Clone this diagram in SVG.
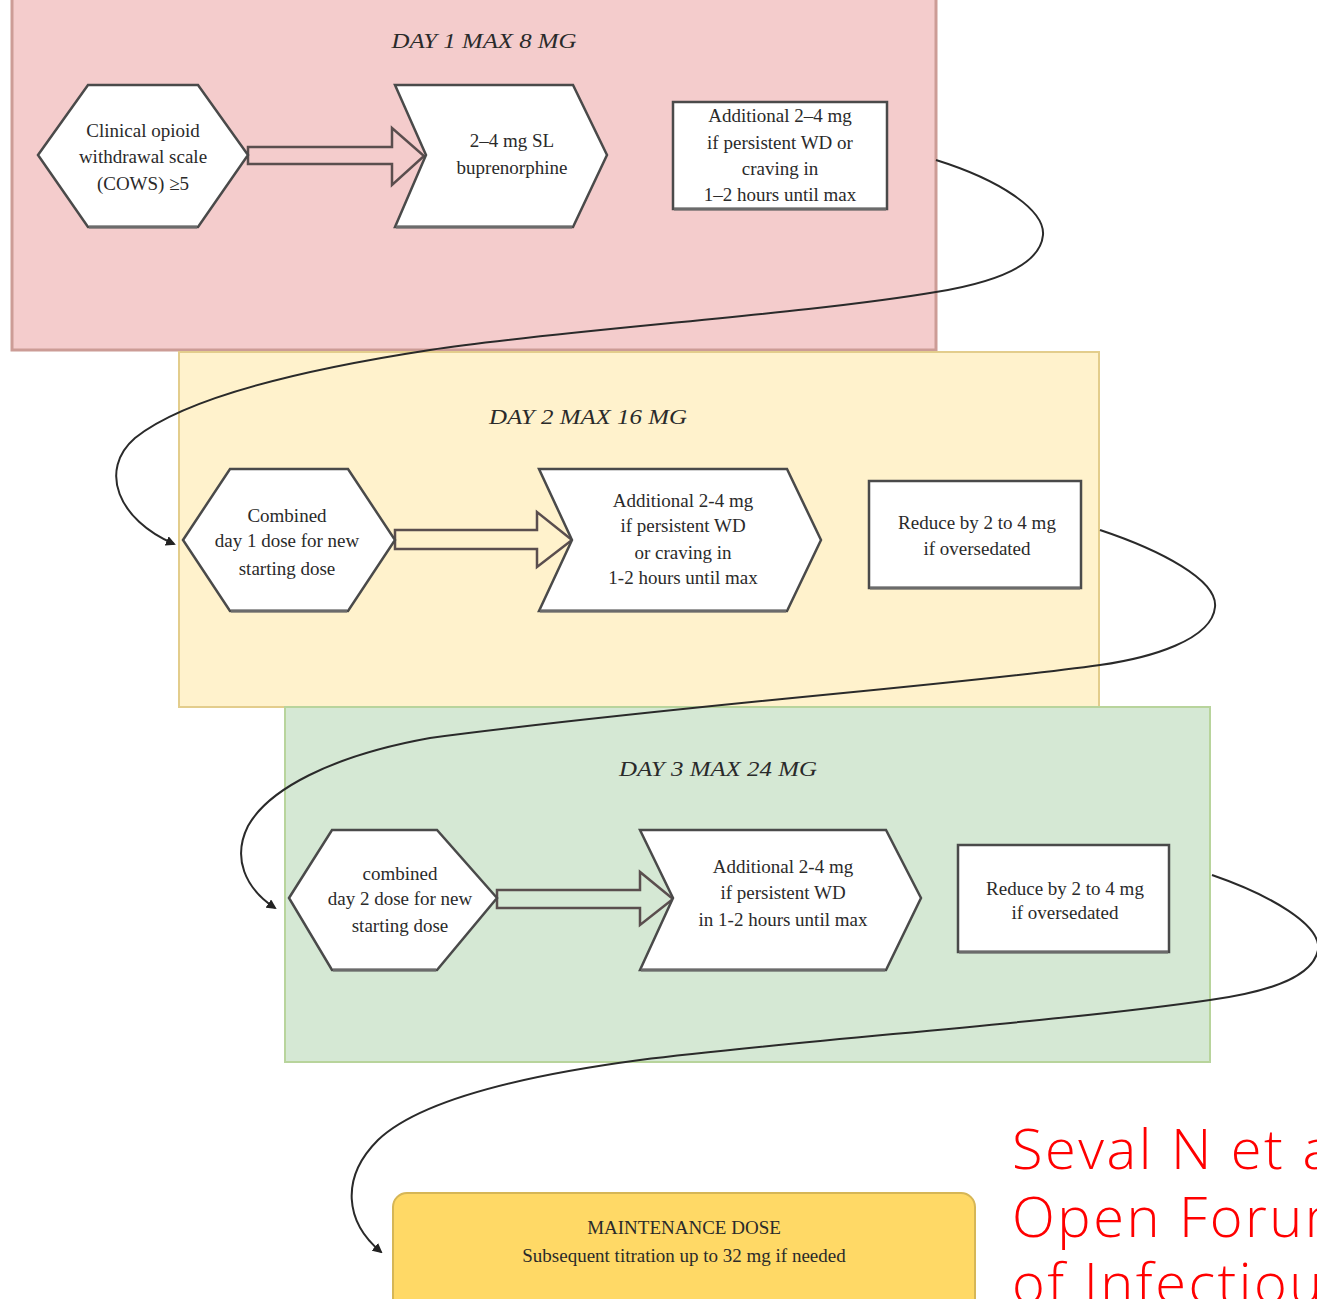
<svg xmlns="http://www.w3.org/2000/svg" width="1317" height="1299" viewBox="0 0 1317 1299">
<defs>
<marker id="ah" markerWidth="10" markerHeight="10" refX="8" refY="5" orient="auto" markerUnits="userSpaceOnUse">
<path d="M0,0 L10,5 L0,10 Z" fill="#222"/>
</marker>
<style>
.node{fill:#ffffff;stroke:#4a4a4a;stroke-width:2.5}
.shadow{fill:none;stroke:#6b6b6b;stroke-width:3}
.barrow{fill:none;stroke:#5a4e4e;stroke-width:2.5}
.t{font-family:"Liberation Serif",serif;font-size:19px;fill:#2a2a2a;text-anchor:middle}
.title{font-family:"Liberation Serif",serif;font-style:italic;font-size:22px;fill:#2a2a2a;text-anchor:middle}
.conn{fill:none;stroke:#2a2a2a;stroke-width:2}
.ref{font-family:"Open Sans","Liberation Sans",sans-serif;font-weight:300;font-size:56px;letter-spacing:2.5px;fill:#ff0000}
</style>
</defs>
<rect width="1317" height="1299" fill="#ffffff"/>

<g id="panel-day1">
<rect x="12" y="-4" width="924" height="354" fill="#f4cccc" stroke="#cc9c96" stroke-width="3"/>
<text class="title" x="484" y="48" textLength="185" lengthAdjust="spacingAndGlyphs">DAY 1 MAX 8 MG</text>
</g>
<g id="panel-day2">
<rect x="179" y="352" width="920" height="355" fill="#fff2cc" stroke="#e3cd8c" stroke-width="2"/>
<text class="title" x="588" y="424" textLength="198" lengthAdjust="spacingAndGlyphs">DAY 2 MAX 16 MG</text>
</g>
<g id="panel-day3">
<rect x="285" y="707" width="925" height="355" fill="#d5e8d4" stroke="#b8d49c" stroke-width="2"/>
<text class="title" x="718" y="776" textLength="198" lengthAdjust="spacingAndGlyphs">DAY 3 MAX 24 MG</text>
</g>

<g id="connectors">
<polygon class="barrow" points="248,147 392,147 392,128 424,156 392,185 392,164 248,164"/>
<polygon class="barrow" points="395,530 537,530 537,512 572,540 537,567 537,549 395,549"/>
<polygon class="barrow" points="497,890 640,890 640,872 673,899 640,925 640,908 497,908"/>
<path class="conn" marker-end="url(#ah)" d="M936,160 C1000,180 1045,210 1043,235 C1040,268 985,284 936,292 C800,315 560,330 430,350 C300,370 185,398 135,438 C98,470 118,520 174,544"/>
<path class="conn" marker-end="url(#ah)" d="M1100,530 C1160,550 1218,580 1215,607 C1212,640 1150,658 1100,665 C960,685 680,705 430,738 C330,756 268,790 248,826 C232,858 245,888 275,908"/>
<path class="conn" marker-end="url(#ah)" d="M1212,875 C1270,895 1322,925 1318,950 C1312,980 1260,993 1210,1000 C1060,1022 800,1040 640,1060 C520,1076 420,1100 378,1140 C340,1178 345,1222 381,1252"/>
</g>

<g id="n-cows">
<polygon class="node" points="38,155 88,85 198,85 248,155 198,227 88,227"/>
<line class="shadow" x1="89" y1="227" x2="197" y2="227"/>
<text class="t" x="143" y="137">Clinical opioid</text>
<text class="t" x="143" y="163">withdrawal scale</text>
<text class="t" x="143" y="190">(COWS) ≥5</text>
</g>
<g id="n-bup">
<polygon class="node" points="395,85 573,85 607,155 573,227 395,227 426,155"/>
<line class="shadow" x1="396" y1="227" x2="572" y2="227"/>
<text class="t" x="512" y="147">2–4 mg SL</text>
<text class="t" x="512" y="174">buprenorphine</text>
</g>
<g id="n-add1">
<rect class="node" x="673" y="102" width="214" height="107"/>
<line class="shadow" x1="674" y1="209" x2="886" y2="209"/>
<text class="t" x="780" y="122">Additional 2–4 mg</text>
<text class="t" x="780" y="149">if persistent WD or</text>
<text class="t" x="780" y="175">craving in</text>
<text class="t" x="780" y="201">1–2 hours until max</text>
</g>

<g id="n-comb1">
<polygon class="node" points="183,540 230,469 348,469 395,540 348,611 230,611"/>
<line class="shadow" x1="231" y1="611" x2="347" y2="611"/>
<text class="t" x="287" y="522">Combined</text>
<text class="t" x="287" y="547">day 1 dose for new</text>
<text class="t" x="287" y="575">starting dose</text>
</g>
<g id="n-add2">
<polygon class="node" points="539,469 787,469 821,540 787,611 539,611 572,540"/>
<line class="shadow" x1="540" y1="611" x2="786" y2="611"/>
<text class="t" x="683" y="507">Additional 2-4 mg</text>
<text class="t" x="683" y="532">if persistent WD</text>
<text class="t" x="683" y="559">or craving in</text>
<text class="t" x="683" y="584">1-2 hours until max</text>
</g>
<g id="n-red2">
<rect class="node" x="869" y="481" width="212" height="107"/>
<line class="shadow" x1="870" y1="588" x2="1080" y2="588"/>
<text class="t" x="977" y="529">Reduce by 2 to 4 mg</text>
<text class="t" x="977" y="555">if oversedated</text>
</g>

<g id="n-comb2">
<polygon class="node" points="289,898 332,830 437,830 497,898 437,970 332,970"/>
<line class="shadow" x1="333" y1="970" x2="436" y2="970"/>
<text class="t" x="400" y="880">combined</text>
<text class="t" x="400" y="905">day 2 dose for new</text>
<text class="t" x="400" y="932">starting dose</text>
</g>
<g id="n-add3">
<polygon class="node" points="640,830 886,830 921,898 886,970 640,970 673,898"/>
<line class="shadow" x1="641" y1="970" x2="885" y2="970"/>
<text class="t" x="783" y="873">Additional 2-4 mg</text>
<text class="t" x="783" y="899">if persistent WD</text>
<text class="t" x="783" y="926">in 1-2 hours until max</text>
</g>
<g id="n-red3">
<rect class="node" x="958" y="845" width="211" height="107"/>
<line class="shadow" x1="959" y1="952" x2="1168" y2="952"/>
<text class="t" x="1065" y="895">Reduce by 2 to 4 mg</text>
<text class="t" x="1065" y="919">if oversedated</text>
</g>

<g id="n-maint">
<rect x="393" y="1193" width="582" height="120" rx="14" fill="#ffd966" stroke="#d6b656" stroke-width="2"/>
<text class="t" x="684" y="1234">MAINTENANCE DOSE</text>
<text class="t" x="684" y="1262">Subsequent titration up to 32 mg if needed</text>
</g>

<g id="reference">
<text class="ref" x="1012" y="1169">Seval N et al</text>
<text class="ref" x="1012" y="1237">Open Forum</text>
<text class="ref" x="1012" y="1303">of Infectious</text>
</g>
</svg>
